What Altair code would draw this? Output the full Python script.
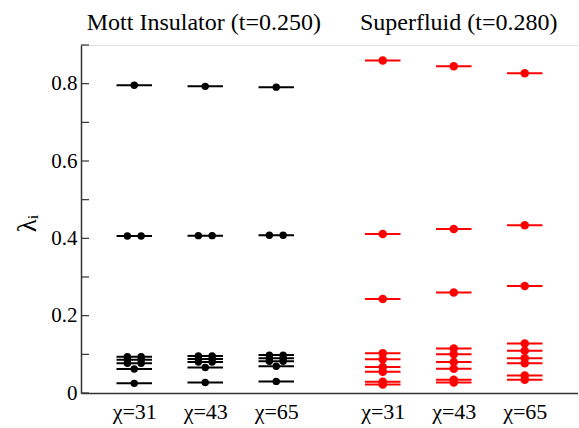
import altair as alt
import pandas as pd

# Bond dimensions shown for each phase
chi_values = [31, 43, 65]
phase_names = ["Mott Insulator (t=0.250)", "Superfluid (t=0.280)"]
phase_colors = ["#000000", "#ff0000"]

# Horizontal slot of each (phase, chi) column
mott_positions = [1.0, 2.0, 3.0]
sf_positions = [4.5, 5.5, 6.5]

# Entanglement spectrum, Mott insulator (t=0.250): values and degeneracies
mott_31 = [0.796, 0.406, 0.094, 0.086, 0.077, 0.062, 0.025]
mott_31_deg = [1, 2, 2, 2, 2, 1, 1]
mott_43 = [0.793, 0.407, 0.096, 0.088, 0.080, 0.066, 0.027]
mott_43_deg = [1, 2, 2, 2, 2, 1, 1]
mott_65 = [0.791, 0.408, 0.098, 0.090, 0.082, 0.069, 0.030]
mott_65_deg = [1, 2, 2, 2, 2, 1, 1]

# Entanglement spectrum, superfluid (t=0.280)
sf_31 = [0.860, 0.411, 0.243, 0.1025, 0.087, 0.067, 0.055, 0.029, 0.022]
sf_43 = [0.845, 0.424, 0.260, 0.115, 0.100, 0.080, 0.063, 0.034, 0.027]
sf_65 = [0.827, 0.434, 0.277, 0.128, 0.109, 0.090, 0.077, 0.045, 0.034]

y_tick_values = [0.0, 0.1, 0.2, 0.3, 0.4, 0.5, 0.6, 0.7, 0.8, 0.9]
y_label_values = [0.0, 0.2, 0.4, 0.6, 0.8]

HALF_LEN = 0.25      # half length of each level bar, in x units
PAIR_SHIFT = 0.097   # horizontal offset of the two dots of a doubly degenerate level

level_rows, dot_rows = [], []


def add_column(phase, pos, values, degs):
    for v, d in zip(values, degs):
        level_rows.append({"phase": phase, "x0": pos - HALF_LEN, "x1": pos + HALF_LEN, "value": v})
        shifts = [0.0] if d == 1 else [-PAIR_SHIFT, PAIR_SHIFT]
        for s in shifts:
            dot_rows.append({"phase": phase, "xd": pos + s, "value": v})


for pos, vals, degs in zip(mott_positions, [mott_31, mott_43, mott_65],
                           [mott_31_deg, mott_43_deg, mott_65_deg]):
    add_column(phase_names[0], pos, vals, degs)
for pos, vals in zip(sf_positions, [sf_31, sf_43, sf_65]):
    add_column(phase_names[1], pos, vals, [1] * len(vals))

levels = pd.DataFrame(level_rows)
dots = pd.DataFrame(dot_rows)
ticks = pd.DataFrame({"tick": y_tick_values})
headers = pd.DataFrame({
    "label": phase_names,
    "tx": [mott_positions[1] - 0.02, sf_positions[1] + 0.07],
    "ty": [0.938, 0.938],
})

# x-axis labels: "χ=NN" under every column
all_pos = mott_positions + sf_positions
all_chi = chi_values + chi_values
label_expr = "''"
for p, c in reversed(list(zip(all_pos, all_chi))):
    label_expr = f"abs(datum.value - {p}) < 0.01 ? 'χ={c}' : ({label_expr})"

x_scale = alt.Scale(domain=[0.25, 7.25], nice=False, zero=False)
y_scale = alt.Scale(domain=[0.0, 0.9], nice=False, zero=False)
color = alt.Color("phase:N", scale=alt.Scale(domain=phase_names, range=phase_colors), legend=None)

serif = "Liberation Serif"

x_axis = alt.Axis(
    values=all_pos, labelExpr=label_expr, ticks=False, grid=False,
    labelFont=serif, labelFontSize=22, labelColor="#000", labelPadding=8,
    domainColor="#333", domainWidth=1.5, title=None,
)
y_axis = alt.Axis(
    values=y_label_values, format=".1~f", ticks=False, grid=False,
    labelFont=serif, labelFontSize=21, labelColor="#000", labelPadding=4,
    domainColor="#333", domainWidth=1.5,
    title="λᵢ", titleFont=serif, titleFontSize=27, titleFontWeight="normal",
    titleColor="#000", titleAngle=270, titleAlign="center", titleBaseline="middle",
    titleX=-54, titleY=178,
)

bars = alt.Chart(levels).mark_rule(strokeWidth=2).encode(
    x=alt.X("x0:Q", scale=x_scale, axis=x_axis),
    x2="x1:Q",
    y=alt.Y("value:Q", scale=y_scale, axis=y_axis),
    color=color,
)

points = alt.Chart(dots).mark_circle(opacity=1).encode(
    x=alt.X("xd:Q", scale=x_scale),
    y=alt.Y("value:Q", scale=y_scale),
    color=color,
    size=alt.Size("phase:N", scale=alt.Scale(domain=phase_names, range=[55, 72]), legend=None),
)

inner_ticks = alt.Chart(ticks).mark_rule(color="#333", strokeWidth=1.2).encode(
    y=alt.Y("tick:Q", scale=y_scale),
    x=alt.value(0),
    x2=alt.value(8),
)

header_text = alt.Chart(headers).mark_text(
    font=serif, fontSize=24, color="#000", baseline="alphabetic", align="center"
).encode(
    x=alt.X("tx:Q", scale=x_scale),
    y=alt.Y("ty:Q", scale=y_scale),
    text="label:N",
)

chart = alt.layer(inner_ticks, bars, points, header_text).properties(
    width=497,
    height=348,
    autosize=alt.AutoSizeParams(type="none"),
    padding={"left": 81, "top": 45, "right": 0, "bottom": 35},
).configure_view(stroke=None).configure(background="#ffffff")

chart.save("out.html", embed_options={"renderer": "svg", "actions": False})
